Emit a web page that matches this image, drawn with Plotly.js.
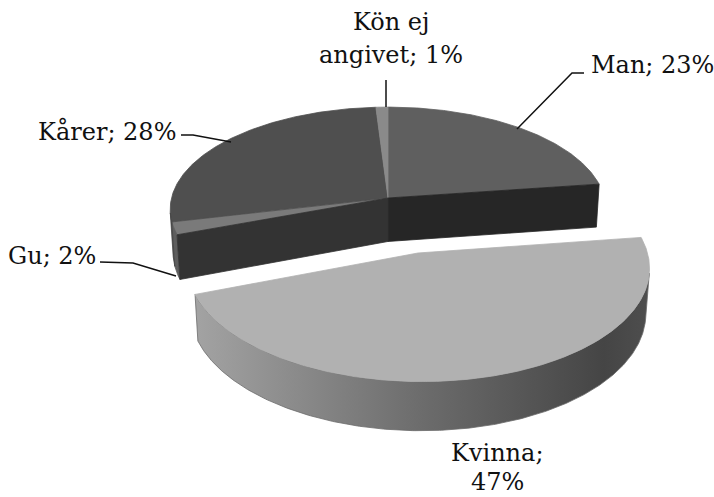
<!DOCTYPE html>
<html><head><meta charset="utf-8">
<script src="https://cdn.plot.ly/plotly-3.0.1.min.js"></script>
<style>html,body{margin:0;padding:0;background:#fff}#chart{width:714px;height:497px}</style>
</head><body><div id="chart"></div>
<script>
// ---- data ----
const categories = ['Man', 'Kvinna', 'Gu', 'Kårer', 'Kön ej angivet'];
const shares = [23, 47, 2, 28, 1];
const exploded = [false, true, false, false, false];
const labelLines = [['Man; 23%'], ['Kvinna;', '47%'], ['Gu; 2%'], ['Kårer; 28%'], ['Kön ej', 'angivet; 1%']];

// ---- styles ----
const topColors  = ['#5f5f5f', '#b1b1b1', '#7a7a7a', '#4f4f4f', '#8a8a8a'];
const sideColors = ['#3a3a3a', '#6b6b6b', '#5e5e5e', '#474747', '#777777'];
const wallColors = ['#262626', '#555555', '#333333', '#333333', '#555555'];
const sideGradient = [[0, '#a3a3a3'], [0.5, '#6c6c6c'], [0.9, '#454545'], [1, '#4e4e4e']];

// ---- 3-D view (pixel space) ----
const V = {cx: 388, cy: 198, S: 216.5, elev: 27.8, k: 0.125, h: 0.23, pull: 0.53};
const cs = Math.cos(V.elev * Math.PI / 180), sn = Math.sin(V.elev * Math.PI / 180);
const D = 1 / V.k;
function P(X, Y, Z) {
  const w = 1 + V.k * (Z * cs - Y * sn);
  return [V.cx + V.S * X / w, V.cy - V.S * (Y * cs + Z * sn) / w];
}
const rad = d => d * Math.PI / 180;
function rimPt(th, Y, o) { return P(o[0] + Math.sin(rad(th)), Y, o[1] + Math.cos(rad(th))); }
function arc(t0, t1, Y, o) {
  const pts = [];
  const n = Math.max(2, Math.ceil(Math.abs(t1 - t0) * 2));
  for (let j = 0; j <= n; j++) pts.push(rimPt(t0 + (t1 - t0) * j / n, Y, o));
  return pts;
}
const cam = [0, -D * cs];
function sideVisible(th, o) {
  const nx = Math.sin(rad(th)), nz = Math.cos(rad(th));
  const px = o[0] + nx, pz = o[1] + nz;
  return nx * (cam[0] - px) + nz * (cam[1] - pz) > 0;
}
function wallVisible(th, t, o) {
  const nx = -t * Math.cos(rad(th)), nz = t * Math.sin(rad(th));
  return nx * (cam[0] - o[0]) + nz * (cam[1] - o[1]) > 0;
}
function poly(pts, color, extra) {
  const t = {
    type: 'scatter', mode: 'lines', fill: 'toself',
    x: pts.map(p => p[0]), y: pts.map(p => p[1]),
    fillcolor: color, line: {color: color, width: 0.8},
    hoverinfo: 'skip', showlegend: false
  };
  return Object.assign(t, extra || {});
}

const total = shares.reduce((s, v) => s + v, 0);
const n = shares.length;
const bodyTops = [], bodySides = [], bodyWalls = [], frontParts = [];
let acc = 0;
shares.forEach((v, i) => {
  const t0 = acc * 360 / total;
  acc += v;
  const t1 = acc * 360 / total;
  const mid = rad((t0 + t1) / 2);
  const o = exploded[i] ? [V.pull * Math.sin(mid), V.pull * Math.cos(mid)] : [0, 0];
  const c0 = P(o[0], 0, o[1]), c1 = P(o[0], -V.h, o[1]);
  const top = [c0].concat(arc(t0, t1, 0, o), [c0]);

  let sa = null, sb = null;
  for (let th = t0; th <= t1 + 1e-9; th += 0.25) {
    if (sideVisible(th, o)) { if (sa === null) sa = th; sb = th; }
  }
  let side = null;
  if (sa !== null && sb > sa) {
    side = arc(sa, sb, 0, o).concat(arc(sb, sa, -V.h, o));
    side.push(side[0]);
  }
  const walls = [];
  const prevEx = exploded[(i - 1 + n) % n], nextEx = exploded[(i + 1) % n];
  [[t0, 1, prevEx], [t1, -1, nextEx]].forEach(([th, t, nb]) => {
    if (!(exploded[i] || nb)) return;
    if (!wallVisible(th, t, o)) return;
    walls.push([c0, rimPt(th, 0, o), rimPt(th, -V.h, o), c1, c0]);
  });

  if (exploded[i]) {
    walls.forEach(w => frontParts.push(poly(w, wallColors[i])));
    if (side) {
      const xs = side.map(p => p[0]);
      frontParts.push(poly(side, sideColors[i], {
        fillgradient: {type: 'horizontal', colorscale: sideGradient,
                       start: Math.min(...xs), stop: Math.max(...xs)}
      }));
    }
    frontParts.push(poly(top, topColors[i]));
  } else {
    bodyTops.push(poly(top, topColors[i]));
    if (side) bodySides.push(poly(side, sideColors[i]));
    walls.forEach(w => bodyWalls.push(poly(w, wallColors[i])));
  }
});

const traces = [].concat(bodyTops, bodySides, bodyWalls, frontParts);

// ---- labels ----
const labelPos = [
  {x: 589, y: 65, xanchor: 'left', dy: 0},
  {x: 497, y: 453, xanchor: 'center', dy: 29},
  {x: 98, y: 256, xanchor: 'right', dy: 0},
  {x: 178, y: 131, xanchor: 'right', dy: 0},
  {x: 391, y: 22, xanchor: 'center', dy: 33}
];
const leaderPaths = [
  'M 517 129 L 572 73 L 584 73',
  '',
  'M 100 262 L 133 263 L 176 276',
  'M 181 135 L 193 135 L 231 142',
  'M 386 80 L 386 107'
];
const font = {family: 'DejaVu Serif, serif', size: 24, color: '#111111'};
const annotations = [];
labelLines.forEach((lines, i) => {
  const p = labelPos[i];
  lines.forEach((txt, j) => annotations.push({
    text: txt, xref: 'x', yref: 'y', x: p.x, y: p.y + j * p.dy,
    xanchor: p.xanchor, yanchor: 'middle', showarrow: false, font: font
  }));
});
const shapes = leaderPaths.filter(p => p).map(p => ({
  type: 'path', path: p, xref: 'x', yref: 'y', line: {color: '#111111', width: 1.5}
}));

const layout = {
  width: 714, height: 497,
  margin: {l: 0, r: 0, t: 0, b: 0},
  paper_bgcolor: '#ffffff', plot_bgcolor: '#ffffff',
  xaxis: {range: [0, 714], visible: false, fixedrange: true},
  yaxis: {range: [497, 0], visible: false, fixedrange: true},
  showlegend: false,
  annotations: annotations,
  shapes: shapes
};
Plotly.newPlot('chart', traces, layout, {displayModeBar: false, staticPlot: true});
</script>
</body></html>
